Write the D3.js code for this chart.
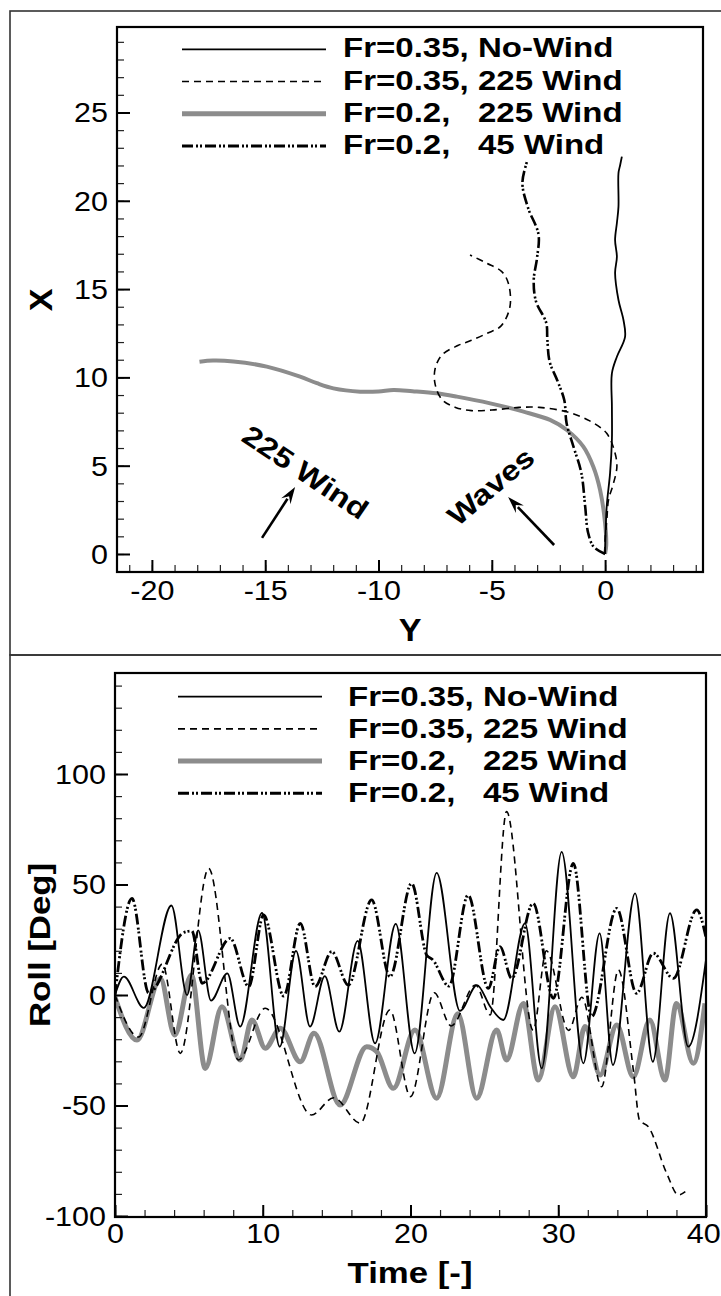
<!DOCTYPE html>
<html>
<head>
<meta charset="utf-8">
<script src="https://cdn.jsdelivr.net/npm/d3@7"></script>
<style>
  html, body { margin: 0; padding: 0; background: #fff; }
  svg { display: block; }
  text { font-family: "Liberation Sans", Arial, Helvetica, sans-serif; }
</style>
</head>
<body>
<svg id="fig" width="721" height="1296"></svg>
<script>
// ---------------- data ----------------
const seriesNames = ["Fr=0.35, No-Wind", "Fr=0.35, 225 Wind", "Fr=0.2,   225 Wind", "Fr=0.2,   45 Wind"];

// Trajectories (lateral Y, longitudinal X)
const trajNoWindY = [0, 0.07, 0.22, 0.30, 0.30, 0.30, 0.52, 0.88, 0.81, 0.59, 0.44, 0.52, 0.44, 0.52, 0.59, 0.59, 0.66, 0.74];
const trajNoWindX = [0, 2.68, 4.59, 6.46, 8.34, 10.23, 11.17, 12.30, 13.25, 14.38, 15.91, 16.83, 17.78, 18.74, 19.67, 21.57, 22.0, 22.5];

const trajW225Y = [0, 0.0, 0.08, 0.15, 0.37, 0.52, 0.44, 0.07, -0.7, -1.7, -2.9, -3.8, -5.0, -5.9, -6.6, -7.2, -7.5, -7.5, -7.2, -6.5, -5.9, -5.2, -4.6, -4.2, -4.27, -4.56, -5.22, -5.96];
const trajW225X = [0, 0.8, 2.0, 3.06, 4.0, 4.94, 5.7, 6.83, 7.55, 8.05, 8.3, 8.3, 8.15, 8.12, 8.3, 8.75, 9.6, 10.5, 11.27, 11.8, 12.1, 12.5, 12.9, 14.0, 15.33, 15.99, 16.46, 16.93];

const trajSlowW225Y = [0, 0.05, 0.0, -0.22, -0.52, -0.96, -1.69, -2.43, -3.6, -5.07, -6.54, -7.43, -8.5, -9.34, -10.0, -10.81, -11.99, -12.72, -13.46, -14.93, -16.4, -17.3, -17.9];
const trajSlowW225X = [0, 0.5, 1.74, 3.62, 4.94, 6.08, 7.02, 7.59, 8.06, 8.53, 8.91, 9.10, 9.22, 9.29, 9.2, 9.19, 9.38, 9.67, 10.04, 10.61, 10.9, 10.95, 10.88];

const trajSlowW45Y = [0, -0.5, -0.75, -0.88, -1.05, -1.4, -1.7, -1.8, -2.1, -2.45, -2.55, -2.6, -3.05, -3.15, -3.0, -2.94, -3.4, -3.65, -3.45];
const trajSlowW45X = [0, 0.4, 1.2, 2.7, 4.6, 6.1, 7.4, 8.7, 9.8, 10.9, 12.2, 13.1, 14.3, 15.5, 16.8, 18.1, 19.6, 21.0, 22.2];

// Roll time histories (time, roll in degrees)
const rollNoWindT = [0, 0.6, 1.95, 3.82, 4.88, 5.63, 6.5, 7.6, 8.47, 9.95, 11.15, 12.25, 13.2, 14.2, 15.18, 16.42, 17.6, 19.0, 20.28, 21.77, 23.35, 24.5, 25.4, 26.28, 27.75, 28.88, 30.23, 31.7, 32.8, 33.7, 35.2, 36.4, 37.56, 38.8, 40];
const rollNoWind  = [0, 8.3, -5.8, 40.5, 0, 29.2, -2.5, 9.8, -14.3, 37.2, -23.4, 20, -14.3, 8.5, -16.6, 24.5, -21.9, 32.2, -26.4, 55.3, -7.2, 4.5, -5.3, -11.3, 32.4, -33.2, 64.8, -30.9, 27.9, -31.7, 46, -30.2, 37, -23.4, 16];

const rollW225T = [0, 1.6, 3.2, 4.42, 6.34, 8.35, 10.17, 13.3, 14.8, 16.6, 18.6, 20.0, 21.6, 22.75, 24.4, 25.4, 26.5, 28.3, 29.2, 30.7, 31.6, 32.94, 34.07, 35.1, 35.5, 36.1, 37.34, 38.13, 38.6];
const rollW225  = [0, -19, 14, -26.4, 57.3, -29.4, -6, -54.3, -46.5, -58, -6.8, -46, 1, -14, 4.5, -9, 83, -16, 20, -16, -1, -41.5, 11.3, -35, -56.6, -59.6, -80.7, -90.5, -89];

const rollSlowW225T = [0, 1.49, 3.07, 4.04, 5.17, 6.11, 7.24, 8.48, 9.27, 10.17, 11.19, 12.54, 13.47, 15.23, 17.03, 17.7, 18.84, 20.3, 21.77, 23.2, 24.48, 25.83, 26.5, 27.64, 28.65, 29.78, 31.02, 31.81, 32.83, 33.96, 35.08, 36.2, 37.22, 38.0, 39.14, 39.93];
const rollSlowW225  = [-1, -20.4, 7.5, -18.1, 9, -33.2, -5.3, -29.4, -11.3, -24.1, -15, -30.2, -17.3, -49.8, -23.4, -25.5, -42.2, -15.8, -46.7, -8.5, -46.7, -15.8, -29.4, -3.8, -38.5, -5.3, -37, -14.3, -36.2, -13.6, -37, -11.3, -38.5, -3.8, -30.9, -3.8];

const rollSlowW45T = [0, 1.15, 2.28, 4.65, 5.2, 5.9, 7.8, 9.05, 10.06, 11.42, 12.54, 13.54, 14.67, 15.79, 17.37, 18.61, 20.08, 21.1, 21.5, 22.6, 23.9, 25.27, 26.06, 26.85, 28.3, 29.67, 31.02, 32.26, 33.96, 35.3, 36.43, 37.79, 39.37, 40];
const rollSlowW45  = [0, 43.7, 0.9, 28.3, 29, 5.3, 25.6, 3.8, 36.2, -0.5, 32.4, 3.8, 19.6, 4.5, 43, 8.3, 50.5, 18, 16, 4, 45.2, 3, 21.9, 7.5, 41.5, -1.5, 59.6, -9.8, 39.2, 0.8, 18.9, 7.5, 38.5, 26];

// Tick values
const trajYMajor = [-20, -15, -10, -5, 0];
const trajXMajor = [0, 5, 10, 15, 20, 25];
const timeMajor = [0, 10, 20, 30, 40];
const rollMajor = [-100, -50, 0, 50, 100];

// ---------------- styling ----------------
const lineStyles = [
  { stroke: "#000", width: 1.8, dash: null },
  { stroke: "#000", width: 1.6, dash: "7,5" },
  { stroke: "#8c8c8c", width: 5, dash: null },
  { stroke: "#000", width: 3, dash: "11,3,2,2,2,3" }
];
const drawOrder = [2, 0, 1, 3];

const svg = d3.select("#fig");
const zip = (a, b) => a.map((v, i) => [v, b[i]]);

// panel frames
svg.append("rect").attr("x", 10).attr("y", 11).attr("width", 730).attr("height", 644)
  .attr("fill", "none").attr("stroke", "#333").attr("stroke-width", 1.6);
svg.append("rect").attr("x", 10).attr("y", 655).attr("width", 730).attr("height", 660)
  .attr("fill", "none").attr("stroke", "#333").attr("stroke-width", 1.6);

function stretchedText(g, str, x, y, o) {
  return g.append("text")
    .attr("transform", `translate(${x},${y}) rotate(${o.rot || 0}) scale(${o.sx || 1},1)`)
    .attr("text-anchor", o.anchor || "start")
    .attr("font-size", o.size)
    .attr("font-weight", o.bold ? "bold" : "normal")
    .style("white-space", "pre")
    .text(str);
}

function drawAxes(g, xs, ys, cfg) {
  const yb = ys.range()[0];
  const xl = xs.range()[0];
  const fmt = d => String(d);
  // minor ticks
  g.append("g").attr("transform", `translate(0,${yb})`)
    .call(d3.axisBottom(xs).tickValues(cfg.xMinor).tickSize(-7).tickSizeOuter(0).tickFormat(""))
    .call(a => a.select(".domain").remove())
    .call(a => a.selectAll("line").attr("stroke", "#222").attr("stroke-width", 1.2));
  g.append("g").attr("transform", `translate(${xl},0)`)
    .call(d3.axisLeft(ys).tickValues(cfg.yMinor).tickSize(-7).tickSizeOuter(0).tickFormat(""))
    .call(a => a.select(".domain").remove())
    .call(a => a.selectAll("line").attr("stroke", "#222").attr("stroke-width", 1.2));
  // major ticks with labels
  const bx = g.append("g").attr("transform", `translate(0,${yb})`)
    .call(d3.axisBottom(xs).tickValues(cfg.xMajor).tickSize(-12).tickSizeOuter(0).tickPadding(cfg.xPad).tickFormat(fmt));
  const ly = g.append("g").attr("transform", `translate(${xl},0)`)
    .call(d3.axisLeft(ys).tickValues(cfg.yMajor).tickSize(-13).tickSizeOuter(0).tickPadding(cfg.yPad).tickFormat(fmt));
  [bx, ly].forEach(a => {
    a.select(".domain").remove();
    a.attr("font-size", 27).attr("font-family", null);
    a.selectAll("line").attr("stroke", "#000").attr("stroke-width", 2);
    a.selectAll("text").attr("fill", "#000").attr("transform", "scale(1.13,1)");
  });
  ly.selectAll("text").attr("y", 0).attr("dy", "0.35em");
  bx.selectAll("text").attr("dy", "0.71em");
  // keep the right-most label inside the page
  if (cfg.lastEnd) {
    bx.selectAll("text").filter(d => d === cfg.xMajor[cfg.xMajor.length - 1])
      .attr("text-anchor", "end").attr("x", cfg.lastEnd);
  }
  // frame
  const [x0, x1] = xs.range(), [y0, y1] = ys.range();
  g.append("rect").attr("x", x0).attr("y", y1).attr("width", x1 - x0).attr("height", y0 - y1)
    .attr("fill", "none").attr("stroke", "#000").attr("stroke-width", 2.2);
}

function drawLegend(g, lx0, lx1, tx, ry0, step, base) {
  seriesNames.forEach((name, i) => {
    const s = lineStyles[i];
    const yy = ry0 + i * step;
    g.append("line").attr("x1", lx0).attr("x2", lx1).attr("y1", yy).attr("y2", yy)
      .attr("stroke", s.stroke).attr("stroke-width", s.width)
      .attr("stroke-dasharray", s.dash);
    stretchedText(g, name, tx, yy + base, { size: 28, bold: true, sx: 1.18 });
  });
}

// ---------------- top panel: trajectories ----------------
const trajPanel = svg.append("g");
const xTraj = d3.scaleLinear().domain([-21.54, 4.32]).range([117, 703]);
const yTraj = d3.scaleLinear().domain([-1.02, 29.84]).range([572, 27]);

trajPanel.append("clipPath").attr("id", "clipTraj").append("rect")
  .attr("x", 117).attr("y", 27).attr("width", 586).attr("height", 545);

const trajData = [
  zip(trajNoWindY, trajNoWindX),
  zip(trajW225Y, trajW225X),
  zip(trajSlowW225Y, trajSlowW225X),
  zip(trajSlowW45Y, trajSlowW45X)
];
const trajWidths = [1.8, 1.6, 4, 2.6];
const trajLine = d3.line().x(d => xTraj(d[0])).y(d => yTraj(d[1])).curve(d3.curveCatmullRom.alpha(0.5));
const trajCurves = trajPanel.append("g").attr("clip-path", "url(#clipTraj)");
drawOrder.forEach(i => {
  const s = lineStyles[i];
  trajCurves.append("path").attr("d", trajLine(trajData[i]))
    .attr("fill", "none").attr("stroke", s.stroke).attr("stroke-width", trajWidths[i])
    .attr("stroke-dasharray", s.dash).attr("stroke-linejoin", "round");
});

drawAxes(trajPanel, xTraj, yTraj, {
  xMajor: trajYMajor, xMinor: d3.range(-21, 5, 1),
  yMajor: trajXMajor, yMinor: d3.range(-1, 30, 1),
  xPad: 9, yPad: 8
});
drawLegend(trajPanel, 182, 326, 343, 49.3, 32.2, 8);

stretchedText(trajPanel, "X", 52, 300, { size: 31, bold: true, sx: 1.1, rot: -90, anchor: "middle" });
stretchedText(trajPanel, "Y", 410, 641, { size: 31, bold: true, sx: 1.1, anchor: "middle" });

// annotation arrows (in data units: [Y, X])
const windArrow = [[-15.14, 0.91], [-13.68, 3.79]];
const waveArrow = [[-2.25, 0.51], [-4.28, 3.23]];
function arrow(g, a) {
  const x1 = xTraj(a[0][0]), y1 = yTraj(a[0][1]), x2 = xTraj(a[1][0]), y2 = yTraj(a[1][1]);
  const ang = Math.atan2(y2 - y1, x2 - x1), hl = 17, hw = 5.5;
  const bx = x2 - hl * Math.cos(ang), by = y2 - hl * Math.sin(ang);
  g.append("line").attr("x1", x1).attr("y1", y1).attr("x2", bx + 3 * Math.cos(ang)).attr("y2", by + 3 * Math.sin(ang))
    .attr("stroke", "#000").attr("stroke-width", 2.6);
  const px = -Math.sin(ang), py = Math.cos(ang);
  g.append("path")
    .attr("d", `M${x2},${y2}L${bx + hw * px},${by + hw * py}L${bx + 0.35 * hl * Math.cos(ang)},${by + 0.35 * hl * Math.sin(ang)}L${bx - hw * px},${by - hw * py}Z`)
    .attr("fill", "#000");
}
arrow(trajPanel, windArrow);
arrow(trajPanel, waveArrow);
stretchedText(trajPanel, "225 Wind", xTraj(-16.11), yTraj(6.46), { size: 28, bold: true, sx: 1.18, rot: 34 });
stretchedText(trajPanel, "Waves", xTraj(-4.77), yTraj(3.40), { size: 28, bold: true, sx: 1.18, rot: -40, anchor: "middle" });

// ---------------- bottom panel: roll ----------------
const rollPanel = svg.append("g");
const xTime = d3.scaleLinear().domain([0, 40]).range([115, 706]);
const yRoll = d3.scaleLinear().domain([-100.45, 145.7]).range([1217, 673]);

rollPanel.append("clipPath").attr("id", "clipRoll").append("rect")
  .attr("x", 115).attr("y", 673).attr("width", 591).attr("height", 544);

const rollData = [
  zip(rollNoWindT, rollNoWind),
  zip(rollW225T, rollW225),
  zip(rollSlowW225T, rollSlowW225),
  zip(rollSlowW45T, rollSlowW45)
];
const rollLine = d3.line().x(d => xTime(d[0])).y(d => yRoll(d[1])).curve(d3.curveMonotoneX);
const rollCurves = rollPanel.append("g").attr("clip-path", "url(#clipRoll)");
drawOrder.forEach(i => {
  const s = lineStyles[i];
  rollCurves.append("path").attr("d", rollLine(rollData[i]))
    .attr("fill", "none").attr("stroke", s.stroke).attr("stroke-width", i === 3 ? 2.8 : s.width)
    .attr("stroke-dasharray", s.dash).attr("stroke-linejoin", "round");
});

drawAxes(rollPanel, xTime, yRoll, {
  xMajor: timeMajor, xMinor: d3.range(0, 41, 2),
  yMajor: rollMajor, yMinor: d3.range(-100, 141, 10),
  xPad: 7, yPad: 8, lastEnd: 12.6
});
drawLegend(rollPanel, 178, 322, 348, 696.7, 32.2, 9);

stretchedText(rollPanel, "Roll [Deg]", 50, 945, { size: 29, bold: true, sx: 1.2, rot: -90, anchor: "middle" });
stretchedText(rollPanel, "Time [-]", 410, 1283, { size: 29, bold: true, sx: 1.2, anchor: "middle" });
</script>
</body>
</html>
